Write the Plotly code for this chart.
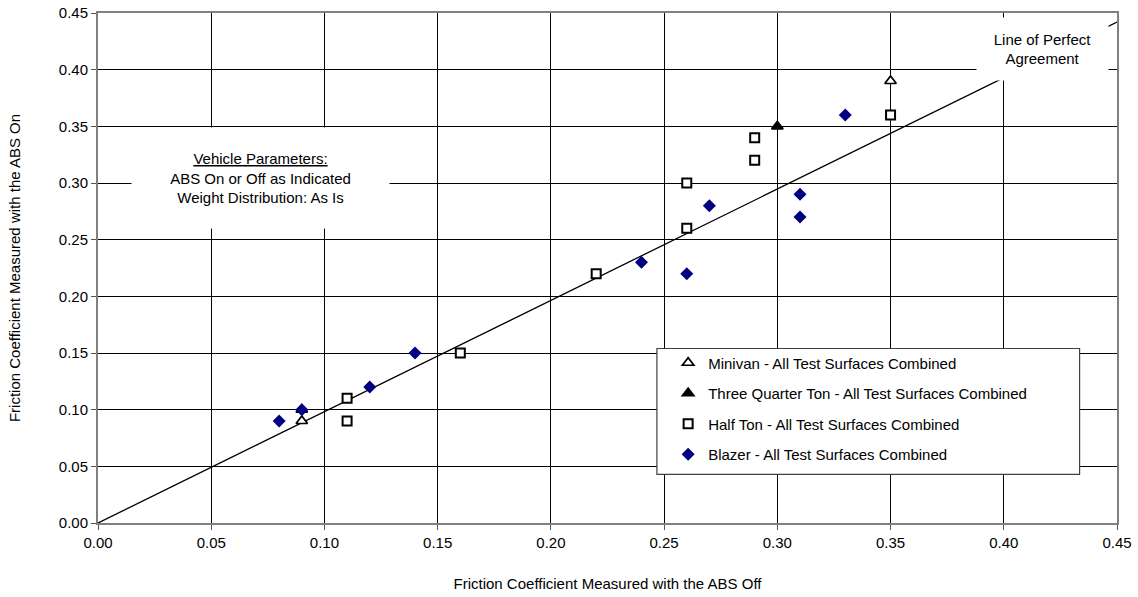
import plotly.graph_objects as go

# ---- data ----
minivan_x = [0.09, 0.35]
minivan_y = [0.09, 0.39]
three_quarter_x = [0.09, 0.30]
three_quarter_y = [0.10, 0.35]
half_ton_x = [0.11, 0.11, 0.16, 0.22, 0.26, 0.26, 0.29, 0.29, 0.35]
half_ton_y = [0.11, 0.09, 0.15, 0.22, 0.26, 0.30, 0.32, 0.34, 0.36]
blazer_x = [0.08, 0.09, 0.12, 0.14, 0.24, 0.26, 0.27, 0.31, 0.31, 0.33]
blazer_y = [0.09, 0.10, 0.12, 0.15, 0.23, 0.22, 0.28, 0.27, 0.29, 0.36]
agree_x = [0.0, 0.45]
agree_y = [0.0, 0.442]
tick_vals = [0.00, 0.05, 0.10, 0.15, 0.20, 0.25, 0.30, 0.35, 0.40, 0.45]

FONT = "Liberation Sans, Arial, sans-serif"

fig = go.Figure()
fig.add_trace(go.Scatter(x=agree_x, y=agree_y, mode="lines",
                         line=dict(color="black", width=1.3),
                         showlegend=False, hoverinfo="skip"))
fig.add_trace(go.Scatter(x=minivan_x, y=minivan_y, mode="markers",
                         name="Minivan - All Test Surfaces Combined", legendgroup="a",
                         marker=dict(symbol="triangle-up", size=10, color="white",
                                     line=dict(color="black", width=1.7))))
fig.add_trace(go.Scatter(x=three_quarter_x, y=three_quarter_y, mode="markers",
                         name="Three Quarter Ton - All Test Surfaces Combined", legendgroup="b",
                         marker=dict(symbol="triangle-up", size=10, color="black",
                                     line=dict(color="black", width=1.7))))
fig.add_trace(go.Scatter(x=half_ton_x, y=half_ton_y, mode="markers",
                         name="Half Ton - All Test Surfaces Combined", legendgroup="c",
                         marker=dict(symbol="square", size=9, color="white",
                                     line=dict(color="black", width=2))))
fig.add_trace(go.Scatter(x=blazer_x, y=blazer_y, mode="markers",
                         name="Blazer - All Test Surfaces Combined", legendgroup="d",
                         marker=dict(symbol="diamond", size=10, color="#000080",
                                     line=dict(color="#000080", width=0))))

axis_common = dict(
    range=[0, 0.45], tickvals=tick_vals, tickformat=".2f",
    showgrid=True, gridcolor="black", gridwidth=1,
    showline=True, linecolor="#808080", linewidth=2, mirror=True,
    ticks="outside", ticklen=5, tickcolor="#555555", tickwidth=1,
    zeroline=False, automargin=False,
    tickfont=dict(family=FONT, size=15, color="black"),
)

fig.update_layout(
    template="none",
    width=1138, height=597,
    margin=dict(l=98, r=21, t=13, b=74, autoexpand=False),
    paper_bgcolor="white", plot_bgcolor="white",
    font=dict(family=FONT, size=15, color="black"),
    xaxis=dict(axis_common,
               title=dict(text="Friction Coefficient Measured with the ABS Off",
                          font=dict(family=FONT, size=15), standoff=28)),
    yaxis=dict(axis_common,
               title=dict(text="Friction Coefficient Measured with the ABS On",
                          font=dict(family=FONT, size=15), standoff=35)),
    legend=dict(x=0.5595, y=0.3461, xanchor="left", yanchor="top",
                bgcolor="rgba(0,0,0,0)", borderwidth=0,
                traceorder="grouped", tracegroupgap=8,
                font=dict(family=FONT, size=15, color="black")),
    shapes=[dict(type="rect", xref="paper", yref="paper",
                 x0=0.5485, x1=0.9633, y0=0.0955, y1=0.3422,
                 fillcolor="white", line=dict(color="#404040", width=1.2),
                 layer="above")],
    annotations=[
        dict(x=0.0717, y=0.3042, xref="x", yref="y",
             text="<u>Vehicle Parameters:</u><br>ABS On or Off as Indicated<br>Weight Distribution: As Is",
             showarrow=False, bgcolor="white", width=257, height=100, borderpad=0,
             font=dict(family=FONT, size=15, color="black"), align="center"),
        dict(x=0.4172, y=0.418, xref="x", yref="y",
             text="Line of Perfect<br>Agreement",
             showarrow=False, bgcolor="white", width=131, height=62, borderpad=0,
             font=dict(family=FONT, size=15, color="black"), align="center"),
    ],
)

fig.write_html("out.html")
